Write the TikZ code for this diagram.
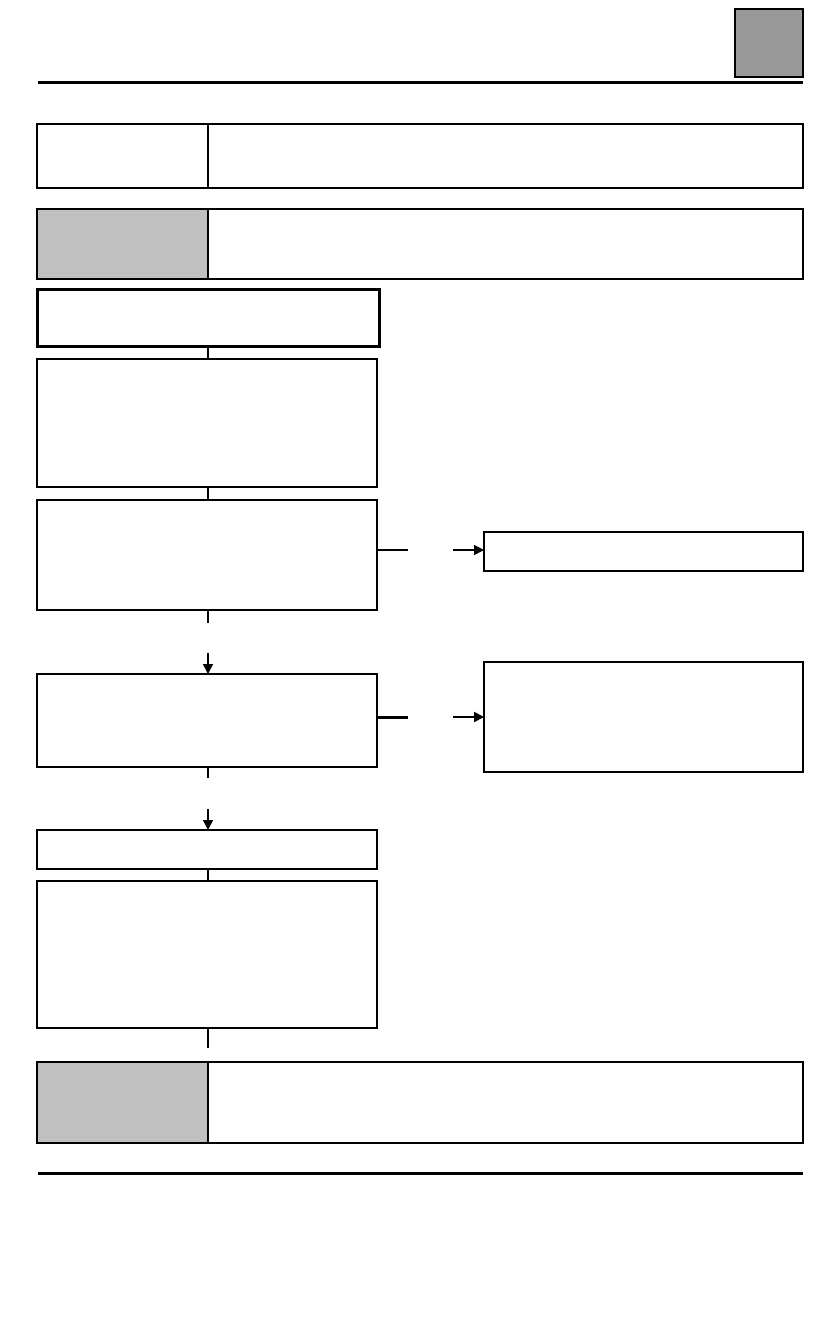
\documentclass[tikz,border=0pt]{standalone}
\usetikzlibrary{arrows.meta}
\definecolor{cellgray}{RGB}{192,192,192}
\definecolor{tabgray}{RGB}{153,153,153}
\tikzset{
  box/.style={draw=black, rectangle, inner sep=0pt, outer sep=0pt, anchor=north west, line width=1.2pt},
  medbox/.style={box, line width=2pt},
  thickbox/.style={box, line width=3pt},
  graycell/.style={medbox, fill=cellgray},
  link/.style={line width=1.5pt},
  thicklink/.style={line width=3pt},
  arrowlink/.style={line width=1.5pt, -{Triangle[length=10pt,width=10pt]}},
  rule/.style={line width=3pt}
}
\begin{document}
\begin{tikzpicture}[x=1pt,y=-1pt]
\useasboundingbox (0,0) rectangle (840,1320);
% tab and rules
\node[medbox, fill=tabgray, minimum width=68pt, minimum height=68pt] (tab) at (735,9) {};
\draw[rule] (38,82) -- (803,82);
\draw[rule] (38,1173) -- (803,1173);
% split header boxes
\node[medbox, minimum width=171pt, minimum height=64pt] (h1l) at (37,124) {};
\node[medbox, minimum width=595pt, minimum height=64pt] (h1r) at (208,124) {};
\node[graycell, minimum width=171pt, minimum height=70pt] (h2l) at (37,209) {};
\node[medbox, minimum width=595pt, minimum height=70pt] (h2r) at (208,209) {};
% flow column
\node[thickbox, minimum width=342pt, minimum height=57pt] (b3) at (37,289) {};
\node[box, minimum width=340pt, minimum height=128pt] (b4) at (37,359) {};
\node[box, minimum width=340pt, minimum height=110pt] (b5) at (37,500) {};
\node[box, minimum width=340pt, minimum height=93pt] (b7) at (37,674) {};
\node[box, minimum width=340pt, minimum height=39pt] (b9) at (37,830) {};
\node[box, minimum width=340pt, minimum height=147pt] (b10) at (37,881) {};
% right column
\node[medbox, minimum width=319pt, minimum height=39pt] (b6) at (484,532) {};
\node[medbox, minimum width=319pt, minimum height=110pt] (b8) at (484,662) {};
% footer split box
\node[graycell, minimum width=171pt, minimum height=81pt] (f1l) at (37,1062) {};
\node[medbox, minimum width=595pt, minimum height=81pt] (f1r) at (208,1062) {};
% connectors (centre line x = 208)
\draw[link] (b3.south) -- (b3.south |- b4.north);
\draw[link] (b3.south |- b4.south) -- (b3.south |- b5.north);
\coordinate (c5a) at (208,623);
\coordinate (c5b) at (208,653);
\draw[link] (b3.south |- b5.south) -- (c5a);
\draw[arrowlink] (c5b) -- (c5b |- b7.north);
\coordinate (c56a) at (408,550);
\coordinate (c56b) at (453,550);
\draw[link] (b5.east |- c56a) -- (c56a);
\draw[arrowlink] (c56b) -- (b6.west |- c56b);
\coordinate (c78a) at (408,717);
\coordinate (c78b) at (453,717);
\draw[thicklink] (b7.east |- c78a) -- (c78a);
\draw[arrowlink, line width=2pt] (c78b) -- (b8.west |- c78b);
\coordinate (c7a) at (208,778);
\coordinate (c7b) at (208,809);
\draw[link] (b3.south |- b7.south) -- (c7a);
\draw[arrowlink] (c7b) -- (c7b |- b9.north);
\draw[link] (b3.south |- b9.south) -- (b3.south |- b10.north);
\coordinate (c10) at (208,1048);
\draw[link] (b3.south |- b10.south) -- (c10);
\end{tikzpicture}
\end{document}
